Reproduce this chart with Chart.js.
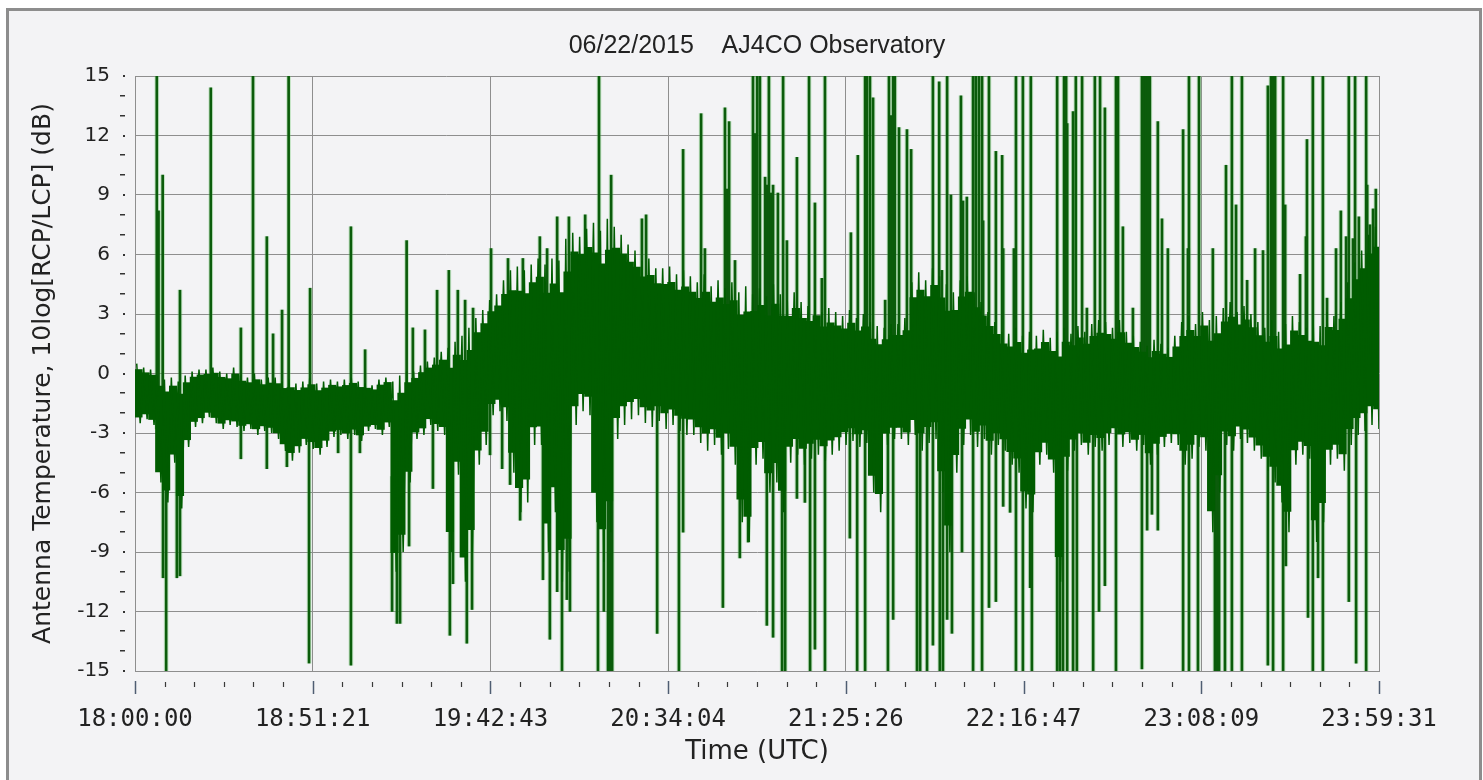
<!DOCTYPE html>
<html>
<head>
<meta charset="utf-8">
<title>AJ4CO Observatory</title>
<script src="https://cdn.jsdelivr.net/npm/chart.js@4.4.1/dist/chart.umd.min.js"></script>
<style>
  html, body { margin: 0; padding: 0; background: #ffffff; }
  #frame {
    position: absolute; left: 6px; top: 8px; width: 1470px; height: 790px;
    border: 3px solid #8d8d8d; border-bottom: none; background: #f3f3f5;
  }
  #myChart { position: absolute; left: 0; top: 0; }
</style>
</head>
<body>
<div id="frame"></div>
<canvas id="myChart" width="1483" height="780"></canvas>
<script>
// x axis runs in minutes after 18:00:00 UTC
const xMax = 359 + 31 / 60
const tickLabels = ['18:00:00', '18:51:21', '19:42:43', '20:34:04', '21:25:26', '22:16:47', '23:08:09', '23:59:31']
const slotMinutes = 2

// upper and lower edge of the noise, one pair per 2 minute slot (dB)
const bandTop = [
  0.5, 0.3, 0.2, -0.1, -0.3, -0.2, -0.4, -0.1, 0.1, 0.2,
  0.2, 0.3, 0.1, 0.0, 0.3, -0.1, -0.2, 0.0, -0.3, -0.2,
  -0.2, -0.4, -0.3, -0.5, -0.4, -0.2, -0.5, -0.4, -0.3, -0.4,
  -0.3, -0.2, -0.4, -0.5, -0.6, -0.3, -0.2, -0.4, -0.1, 0.1,
  0.1, 0.4, 0.6, 0.8, 1.1, 1.3, 1.6, 1.9, 2.3, 2.8,
  3.2, 3.7, 4.0, 4.7, 5.2, 5.4, 5.2, 5.5, 5.8, 5.5,
  5.8, 5.7, 6.8, 7.1, 6.9, 7.3, 7.6, 7.2, 7.8, 7.4,
  7.0, 6.5, 6.2, 5.7, 5.8, 5.3, 5.3, 5.4, 5.0, 5.2,
  4.9, 4.6, 5.0, 4.4, 4.7, 4.3, 4.6, 4.1, 4.4, 4.0,
  4.3, 3.9, 4.5, 4.0, 3.7, 4.1, 3.6, 3.4, 3.7, 3.1,
  3.3, 3.1, 2.9, 3.2, 2.8, 3.0, 2.6, 2.4, 2.3, 2.5,
  2.5, 2.8, 4.6, 5.1, 4.7, 5.3, 4.9, 4.5, 4.1, 4.7,
  4.9, 4.1, 3.6, 3.1, 2.6, 2.1, 2.0, 2.3, 1.9, 2.1,
  1.9, 2.2, 1.8, 2.1, 2.3, 2.0, 2.4, 2.1, 2.5, 2.7,
  2.6, 2.3, 2.7, 2.1, 1.9, 1.6, 1.4, 1.7, 1.5, 1.3,
  1.9, 2.6, 2.9, 2.5, 3.1, 2.7, 2.9, 3.3, 3.6, 3.1,
  3.4, 3.0, 2.6, 2.3, 2.7, 2.1, 2.5, 2.9, 2.6, 2.3,
  2.7, 2.4, 3.1, 2.9, 3.6, 4.6, 5.6, 6.2, 7.0, 7.4
]
const bandBottom = [
  -2.5, -2.3, -2.6, -5.5, -6.5, -4.5, -6.8, -3.7, -2.7, -2.5,
  -2.2, -2.5, -2.8, -2.6, -2.7, -2.9, -2.8, -3.1, -2.9, -3.0,
  -3.3, -3.9, -4.4, -4.0, -3.6, -3.8, -4.1, -3.7, -3.2, -3.1,
  -3.3, -3.1, -3.4, -2.9, -2.8, -3.1, -2.7, -10.0, -9.0, -5.5,
  -3.3, -3.1, -2.6, -2.9, -3.1, -9.0, -5.1, -10.5, -9.0, -4.6,
  -3.6, -2.1, -1.9, -2.4, -5.0, -7.0, -6.5, -3.6, -3.6, -9.0,
  -7.0, -10.5, -10.0, -2.6, -1.9, -2.1, -7.5, -9.5, -8.0, -3.3,
  -2.6, -2.3, -2.1, -2.5, -2.7, -2.4, -2.8, -2.6, -2.9, -3.1,
  -3.1, -3.5, -3.9, -3.6, -4.1, -3.8, -4.6, -7.5, -8.5, -4.6,
  -4.3, -6.0, -5.5, -7.0, -4.5, -4.1, -4.6, -4.3, -4.1, -4.4,
  -4.1, -3.9, -3.6, -3.4, -3.7, -3.5, -6.0, -7.0, -3.6, -3.3,
  -3.3, -3.6, -3.1, -3.9, -3.5, -3.3, -6.0, -9.0, -5.0, -3.6,
  -3.1, -3.7, -3.3, -4.1, -3.6, -3.9, -4.6, -5.0, -6.8, -7.0,
  -4.6, -4.1, -5.0, -10.5, -4.9, -3.9, -3.6, -4.1, -3.7, -3.9,
  -3.6, -3.3, -3.7, -3.5, -3.9, -3.6, -4.6, -4.1, -3.7, -3.5,
  -3.6, -4.6, -4.3, -3.7, -3.9, -8.0, -6.0, -3.6, -3.9, -3.3,
  -3.5, -3.9, -4.3, -4.9, -5.5, -6.5, -8.0, -4.6, -4.1, -4.3,
  -8.5, -7.5, -4.6, -4.3, -4.9, -3.6, -3.1, -2.9, -2.6, -2.8
]

// single spikes sticking out of the band (minute, dB)
const upTimes = [6.3, 6.8, 8.0, 13.0, 21.9, 30.6, 34.1, 38.1, 39.9, 42.5, 44.4, 50.6, 62.4, 66.5, 78.5, 80.3, 83.8, 87.3, 90.7, 93.3,
  95.4, 97.7, 102.9, 107.8, 112.1, 117.0, 119.1, 122.0, 125.4, 130.1, 134.1, 137.6, 146.5, 147.7, 158.4, 163.6, 164.7, 170.5, 171.1, 171.7,
  173.4, 178.6, 179.2, 179.8, 180.6, 182.1, 182.6, 183.2, 183.8, 184.4, 185.8, 187.3, 188.4, 191.3, 194.8, 196.5, 198.5, 199.4, 206.9, 208.9,
  211.0, 211.5, 212.4, 213.3, 216.8, 217.9, 218.5, 219.1, 219.6, 220.8, 223.1, 224.3, 230.6, 232.4, 233.2, 234.7, 235.8, 238.7, 239.3, 240.4,
  242.2, 243.0, 243.9, 244.8, 245.1, 246.8, 248.8, 250.6, 250.9, 254.0, 254.6, 256.6, 258.9, 266.5, 268.5, 269.1, 269.4, 271.1, 271.9, 273.7,
  275.1, 277.4, 278.9, 280.3, 283.5, 284.1, 285.5, 288.4, 291.0, 291.6, 292.2, 292.8, 293.3, 295.6, 296.8, 298.5, 302.9, 304.3, 304.6, 307.5,
  311.5, 315.3, 317.0, 318.2, 319.9, 321.4, 323.7, 326.0, 327.4, 328.3, 328.9, 329.5, 331.8, 332.4, 336.7, 338.4, 338.7, 340.4, 343.3, 344.5,
  347.1, 348.5, 350.0, 350.8, 352.0, 352.6, 353.7, 355.8, 356.1, 356.9, 357.8, 358.6]
const upValues = [15, 8.2, 10.0, 4.2, 14.4, 2.3, 15, 6.9, 2.0, 3.2, 15, 4.3, 7.4, 1.2, 6.7, 2.3, 2.2, 4.2, 5.2, 4.2,
  3.7, 3.3, 6.3, 5.8, 5.8, 6.9, 6.3, 7.9, 7.9, 8.0, 15, 10.0, 7.8, 8.0, 11.3, 13.1, 6.3, 13.4, 9.3, 12.7,
  5.7, 15, 12.1, 15, 15, 9.9, 9.5, 15, 9.1, 9.5, 9.1, 15, 6.7, 10.9, 15, 8.6, 4.8, 15, 7.1, 11.0,
  15, 15, 15, 13.9, 3.7, 15, 13.0, 15, 15, 12.4, 12.3, 11.3, 15, 14.7, 5.2, 15, 9.0, 14.0, 8.7, 8.9,
  15, 15, 15, 15, 7.7, 15, 11.2, 11.0, 6.3, 6.3, 15, 15, 15, 15, 15, 15, 12.6, 13.2, 15, 15,
  3.3, 15, 15, 13.4, 15, 15, 7.4, 3.3, 15, 15, 15, 15, 15, 12.7, 7.8, 6.3, 12.3, 6.3, 15, 15,
  6.3, 10.5, 15, 8.5, 15, 4.7, 6.3, 6.2, 14.5, 15, 15, 15, 15, 8.5, 5.0, 6.9, 11.8, 15, 15, 3.8,
  6.3, 8.2, 6.9, 15, 6.8, 15, 7.9, 15, 9.5, 7.5, 8.3, 9.3]

const downTimes = [8.1, 9.0, 12.1, 13.0, 30.6, 38.1, 43.9, 50.3, 58.7, 62.4, 65.0, 74.3, 75.7, 76.6, 79.2, 86.1, 91.0, 91.9, 95.9, 97.4,
  102.6, 106.1, 108.4, 111.3, 117.9, 119.9, 122.0, 123.4, 124.8, 125.7, 133.8, 135.5, 136.7, 137.3, 137.9, 150.9, 157.2, 158.4, 169.9, 174.8,
  177.2, 182.6, 184.4, 187.0, 187.9, 191.3, 193.6, 195.1, 196.5, 199.4, 206.6, 208.7, 211.0, 217.6, 219.1, 226.0, 226.9, 228.9, 230.6, 232.6,
  233.5, 234.7, 236.1, 239.0, 242.2, 244.8, 246.8, 248.8, 250.9, 252.9, 254.6, 256.6, 258.7, 259.2, 266.5, 267.3, 268.2, 269.4, 271.1, 272.2,
  276.9, 278.6, 280.3, 283.5, 291.0, 292.5, 293.9, 295.6, 302.9, 304.6, 307.2, 312.1, 312.7, 313.3, 315.0, 317.0, 319.9, 327.4, 328.9, 331.8,
  332.6, 339.0, 340.4, 341.9, 343.3, 350.8, 352.9, 355.8]
const downValues = [-10.3, -15, -10.3, -10.2, -4.3, -4.8, -4.7, -14.6, -4.0, -14.7, -4.0, -12.0, -12.6, -12.6, -8.7, -5.8, -13.2, -10.6, -13.6, -11.9,
  -4.1, -4.8, -5.6, -7.4, -10.4, -13.4, -11.0, -15, -11.4, -12.0, -15, -12.0, -15, -15, -15, -13.1, -15, -8.0, -11.8, -9.3,
  -8.5, -12.7, -13.3, -15, -15, -6.3, -6.5, -15, -13.9, -15, -8.3, -15, -15, -15, -12.4, -15, -15, -15, -13.7, -15,
  -15, -12.4, -13.1, -9.0, -15, -15, -11.8, -11.5, -6.7, -7.0, -15, -15, -10.8, -15, -15, -15, -15, -15, -15, -15,
  -15, -12.0, -10.7, -15, -14.9, -7.9, -7.1, -7.9, -15, -15, -15, -15, -15, -15, -15, -15, -15, -14.7, -15, -15,
  -9.7, -12.3, -15, -10.3, -15, -11.5, -14.6, -15]

function bandMid(m) {
  let k = Math.min(bandTop.length - 1, Math.floor(m / slotMinutes))
  return (bandTop[k] + bandBottom[k]) / 2
}

// solid core of each slot, a little inside the edges
let coreData = []
// the trace itself runs top -> bottom -> top across the slots
let traceData = []
for (let k = 0; k < bandTop.length; k++) {
  let span = bandTop[k] - bandBottom[k]
  coreData.push({x: k * slotMinutes + slotMinutes / 2, y: [bandBottom[k] + span * 0.1, bandTop[k] - span * 0.1]})
  traceData.push({x: k * slotMinutes + 0.5, y: bandTop[k]})
  traceData.push({x: k * slotMinutes + 1.5, y: bandBottom[k]})
}
let spikeData = []
for (let i = 0; i < upTimes.length; i++) {
  spikeData.push({x: upTimes[i], y: [bandMid(upTimes[i]), upValues[i]]})
}
for (let i = 0; i < downTimes.length; i++) {
  spikeData.push({x: downTimes[i], y: [downValues[i], bandMid(downTimes[i])]})
}

// small tick marks outside the plot, the way the original program draws them
const tickMarks = {
  id: 'tickMarks',
  afterDraw(chart) {
    const ctx = chart.ctx
    const x = chart.scales.x
    const y = chart.scales.y
    const area = chart.chartArea
    ctx.save()
    for (let i = 0; i <= 42; i++) {
      let px = Math.round(x.getPixelForValue(i * xMax / 42)) + 0.5
      ctx.beginPath()
      if (i % 6 === 0) {
        ctx.strokeStyle = '#4f5d72'
        ctx.lineWidth = 1.5
        ctx.moveTo(px, area.bottom + 10)
        ctx.lineTo(px, area.bottom + 23)
      } else {
        ctx.strokeStyle = '#3a3a3a'
        ctx.lineWidth = 1.2
        ctx.moveTo(px, area.bottom + 11)
        ctx.lineTo(px, area.bottom + 16)
      }
      ctx.stroke()
    }
    ctx.fillStyle = '#333'
    for (let v = -15; v <= 15; v++) {
      let py = Math.round(y.getPixelForValue(v))
      if (v % 3 === 0) {
        ctx.fillRect(area.left - 12, py - 1, 2, 2)
      } else {
        ctx.fillRect(area.left - 15, py - 1, 5, 1.5)
      }
    }
    ctx.restore()
  }
}

var ctx = document.getElementById('myChart')

var myChart = new Chart(ctx, {
  type: 'bar',
  data: {
    datasets: [{
      type: 'line',
      label: 'trace',
      data: traceData,
      borderColor: '#005c00',
      borderWidth: 1.5,
      pointRadius: 0,
      tension: 0,
      order: 1
    }, {
      label: 'core',
      data: coreData,
      backgroundColor: '#005c00',
      borderWidth: 0,
      barThickness: 7.5,
      grouped: false,
      order: 2
    }, {
      label: 'spikes',
      data: spikeData,
      backgroundColor: '#0b5c0b',
      borderWidth: 0,
      barThickness: 2,
      grouped: false,
      order: 3
    }, {
      label: 'spike halo',
      data: spikeData,
      backgroundColor: 'rgba(110, 200, 110, 0.35)',
      borderWidth: 0,
      barThickness: 4,
      grouped: false,
      order: 9
    }]
  },
  options: {
    responsive: false,
    animation: false,
    layout: { padding: { left: 0, right: 104, top: 0, bottom: 0 } },
    plugins: {
      legend: { display: false },
      tooltip: { enabled: false },
      title: {
        display: true,
        fullSize: false,
        text: '06/22/2015    AJ4CO Observatory',
        color: '#222',
        font: { family: 'Liberation Sans', size: 25, weight: 'normal' },
        padding: { top: 31, bottom: 15 }
      }
    },
    scales: {
      x: {
        type: 'linear',
        min: 0,
        max: xMax,
        offset: false,
        afterBuildTicks: function(scale) {
          scale.ticks = tickLabels.map((l, i) => ({value: i * xMax / 7}))
        },
        afterFit: function(scale) { scale.height = 109 },
        ticks: {
          autoSkip: false,
          maxRotation: 0,
          padding: 34,
          color: '#222',
          font: { family: 'DejaVu Sans Mono', size: 24 },
          callback: function(val, i) { return tickLabels[i] }
        },
        grid: { color: '#8e8e8e', lineWidth: 1, drawTicks: false, offset: false },
        border: { color: '#8e8e8e' },
        title: {
          display: true,
          text: 'Time (UTC)',
          color: '#222',
          font: { family: 'DejaVu Sans', size: 26 },
          padding: { top: 0, bottom: 12 }
        }
      },
      y: {
        min: -15,
        max: 15,
        afterFit: function(scale) { scale.width = 135 },
        ticks: {
          stepSize: 3,
          padding: 25,
          color: '#222',
          font: { family: 'DejaVu Sans', size: 20 }
        },
        grid: { color: '#8e8e8e', lineWidth: 1, drawTicks: false },
        border: { color: '#8e8e8e' },
        title: {
          display: true,
          text: 'Antenna Temperature, 10log[RCP/LCP] (dB)',
          color: '#222',
          font: { family: 'DejaVu Sans', size: 25 },
          padding: { top: 28, bottom: 0 }
        }
      }
    }
  },
  plugins: [tickMarks]
});
</script>
</body>
</html>
